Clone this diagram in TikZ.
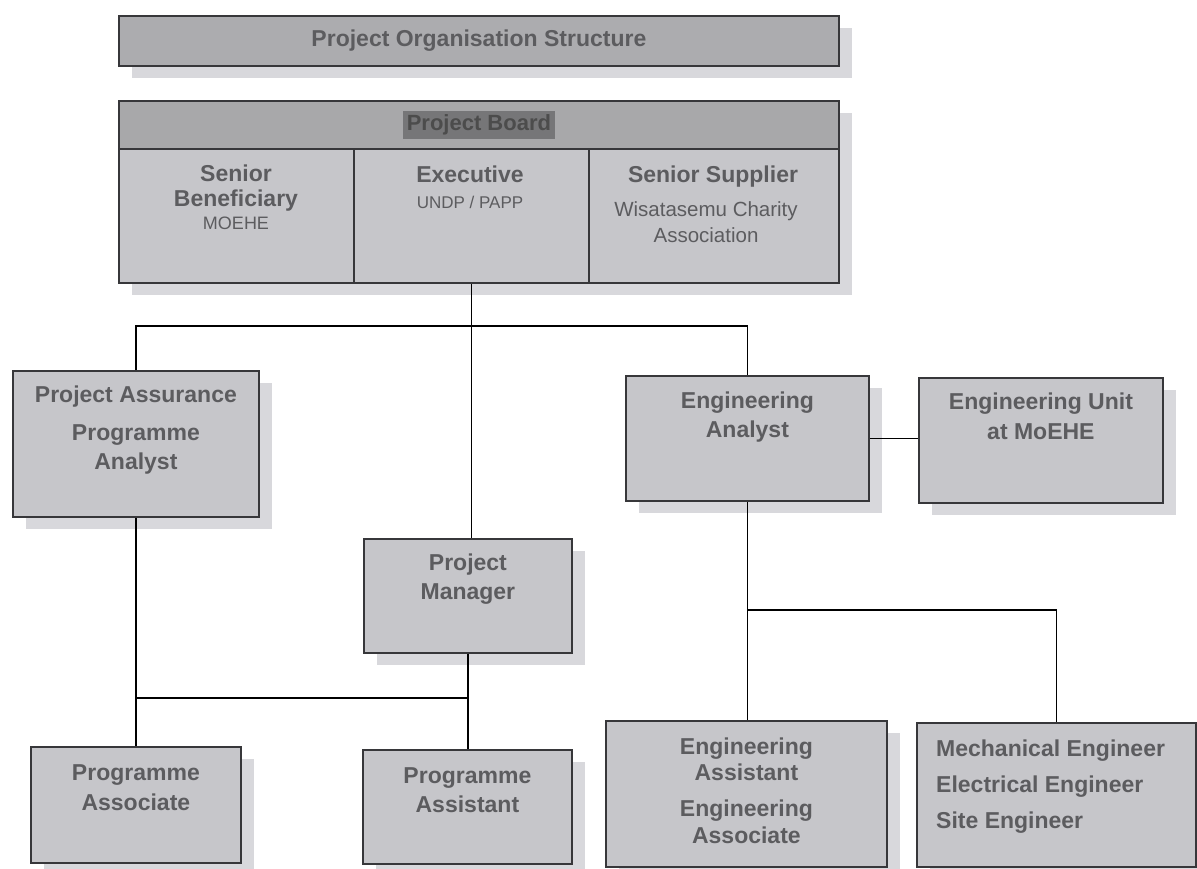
\documentclass[tikz,border=0pt]{standalone}
\usepackage{fontspec}
\setmainfont{Liberation Sans}
\usetikzlibrary{shadows}
\definecolor{boxfill}{RGB}{198,198,202}
\definecolor{shadowc}{RGB}{216,216,220}
\definecolor{headfill}{RGB}{168,168,170}
\definecolor{titlefill}{RGB}{172,172,175}
\definecolor{hlfill}{RGB}{118,118,120}
\definecolor{txt}{RGB}{92,92,95}
\definecolor{edge}{RGB}{55,55,58}
\begin{document}
\begin{tikzpicture}[x=1pt,y=-1pt,
  box/.style={draw=edge, line width=1.8pt, fill=boxfill, anchor=north west, inner sep=0pt,
    general shadow={fill=shadowc, shadow xshift=13pt, shadow yshift=-12pt}},
  cell/.style={draw=edge, line width=1.8pt, fill=boxfill, anchor=north west, inner sep=0pt},
  lbl/.style={text=txt, font=\fontsize{23}{29}\selectfont\bfseries, align=center, inner sep=0pt},
  sub/.style={text=txt, font=\fontsize{18}{26}\selectfont, align=center, inner sep=0pt},
  conn/.style={draw=black, line width=1.5pt}]
\useasboundingbox (0,0) rectangle (1197,869);

% title bar
\node[box, fill=titlefill, minimum width=720pt, minimum height=50pt] (title) at (118,15) {};
\node[lbl] (titletxt) at (title.center) {Project Organisation Structure};

% project board
\node[box, minimum width=720pt, minimum height=182pt] (board) at (118,100) {};
\node[cell, fill=headfill, minimum width=720pt, minimum height=48pt] (bhead) at (118,100) {};
\node[lbl, fill=hlfill, text=black!70, inner sep=4pt, font=\fontsize{22}{26}\selectfont\bfseries] (bheadtxt) at (bhead.center) {Project Board};
\node[cell, minimum width=235pt, minimum height=134pt] (senben) at (118,148) {};
\node[cell, minimum width=235pt, minimum height=134pt] (exec) at (353,148) {};
\node[cell, minimum width=250pt, minimum height=134pt] (sensup) at (588,148) {};
\node[lbl, anchor=north, font=\fontsize{23}{25}\selectfont\bfseries] (senbentxt) at (236,165) {Senior\\Beneficiary};
\node[sub, anchor=north] (senbensub) at (236,217) {MOEHE};
\node[lbl, anchor=north] (exectxt) at (470,166) {Executive};
\node[sub, anchor=north, font=\fontsize{17}{22}\selectfont] (execsub) at (470,196) {UNDP / PAPP};
\node[lbl, anchor=north] (sensuptxt) at (713,166) {Senior Supplier};
\node[sub, anchor=north, font=\fontsize{20.5}{26}\selectfont] (sensupsub) at (706,201) {Wisatasemu Charity\\Association};

% second row
\node[box, minimum width=246pt, minimum height=146pt] (pa) at (12,370) {};
\node[lbl, anchor=north] (patxt) at (pa.north) [yshift=-16pt] {Project Assurance};
\node[lbl, anchor=north] (patxt2) at (pa.north) [yshift=-54pt] {Programme\\Analyst};

\node[box, minimum width=243pt, minimum height=125pt] (ea) at (625,375) {};
\node[lbl, anchor=north] (eatxt) at (ea.north) [yshift=-17pt] {Engineering\\Analyst};

\node[box, minimum width=244pt, minimum height=125pt] (eu) at (918,377) {};
\node[lbl, anchor=north, font=\fontsize{23}{30}\selectfont\bfseries] (eutxt) at (eu.north) [yshift=-16pt] {Engineering Unit\\at MoEHE};

\node[box, minimum width=208pt, minimum height=114pt] (pm) at (363,538) {};
\node[lbl, anchor=north] (pmtxt) at (pm.north) [yshift=-16pt] {Project\\Manager};

% bottom row
\node[box, minimum width=210pt, minimum height=116pt] (pas) at (30,746) {};
\node[lbl, anchor=north, font=\fontsize{23}{30}\selectfont\bfseries] (pastxt) at (pas.north) [yshift=-18pt] {Programme\\Associate};

\node[box, minimum width=209pt, minimum height=114pt] (pst) at (362,749) {};
\node[lbl, anchor=north] (psttxt) at (pst.north) [yshift=-18pt] {Programme\\Assistant};

\node[box, minimum width=281pt, minimum height=146pt] (eas) at (605,720) {};
\node[lbl, anchor=north, font=\fontsize{23}{26}\selectfont\bfseries] (eastxt) at (eas.north) [yshift=-18pt] {Engineering\\Assistant};
\node[lbl, anchor=north, font=\fontsize{23}{27}\selectfont\bfseries] (eastxt2) at (eas.north) [yshift=-80pt] {Engineering\\Associate};

\node[box, minimum width=279pt, minimum height=144pt] (mech) at (916,722) {};
\node[lbl, anchor=north west, align=left, font=\fontsize{23}{36}\selectfont\bfseries] (mechtxt) at (936,740) {Mechanical Engineer\\Electrical Engineer\\Site Engineer};

% connectors
\coordinate (hA) at (0,326);
\coordinate (hB) at (0,610);
\coordinate (hC) at (0,698);
\draw[conn] (exec.south) -- (exec.south |- pm.north);
\draw[conn] (pa.north) -- (pa.north |- hA) -| (ea.north);
\draw[conn] (ea.east) -- (ea.east -| eu.west);
\draw[conn] (ea.south) -- (ea.south |- eas.north);
\draw[conn] (ea.south |- hB) -| (mech.north);
\draw[conn] (pa.south) -- (pa.south |- pas.north);
\draw[conn] (pm.south) -- (pm.south |- pst.north);
\draw[conn] (pa.south |- hC) -- (pm.south |- hC);
\end{tikzpicture}
\end{document}
